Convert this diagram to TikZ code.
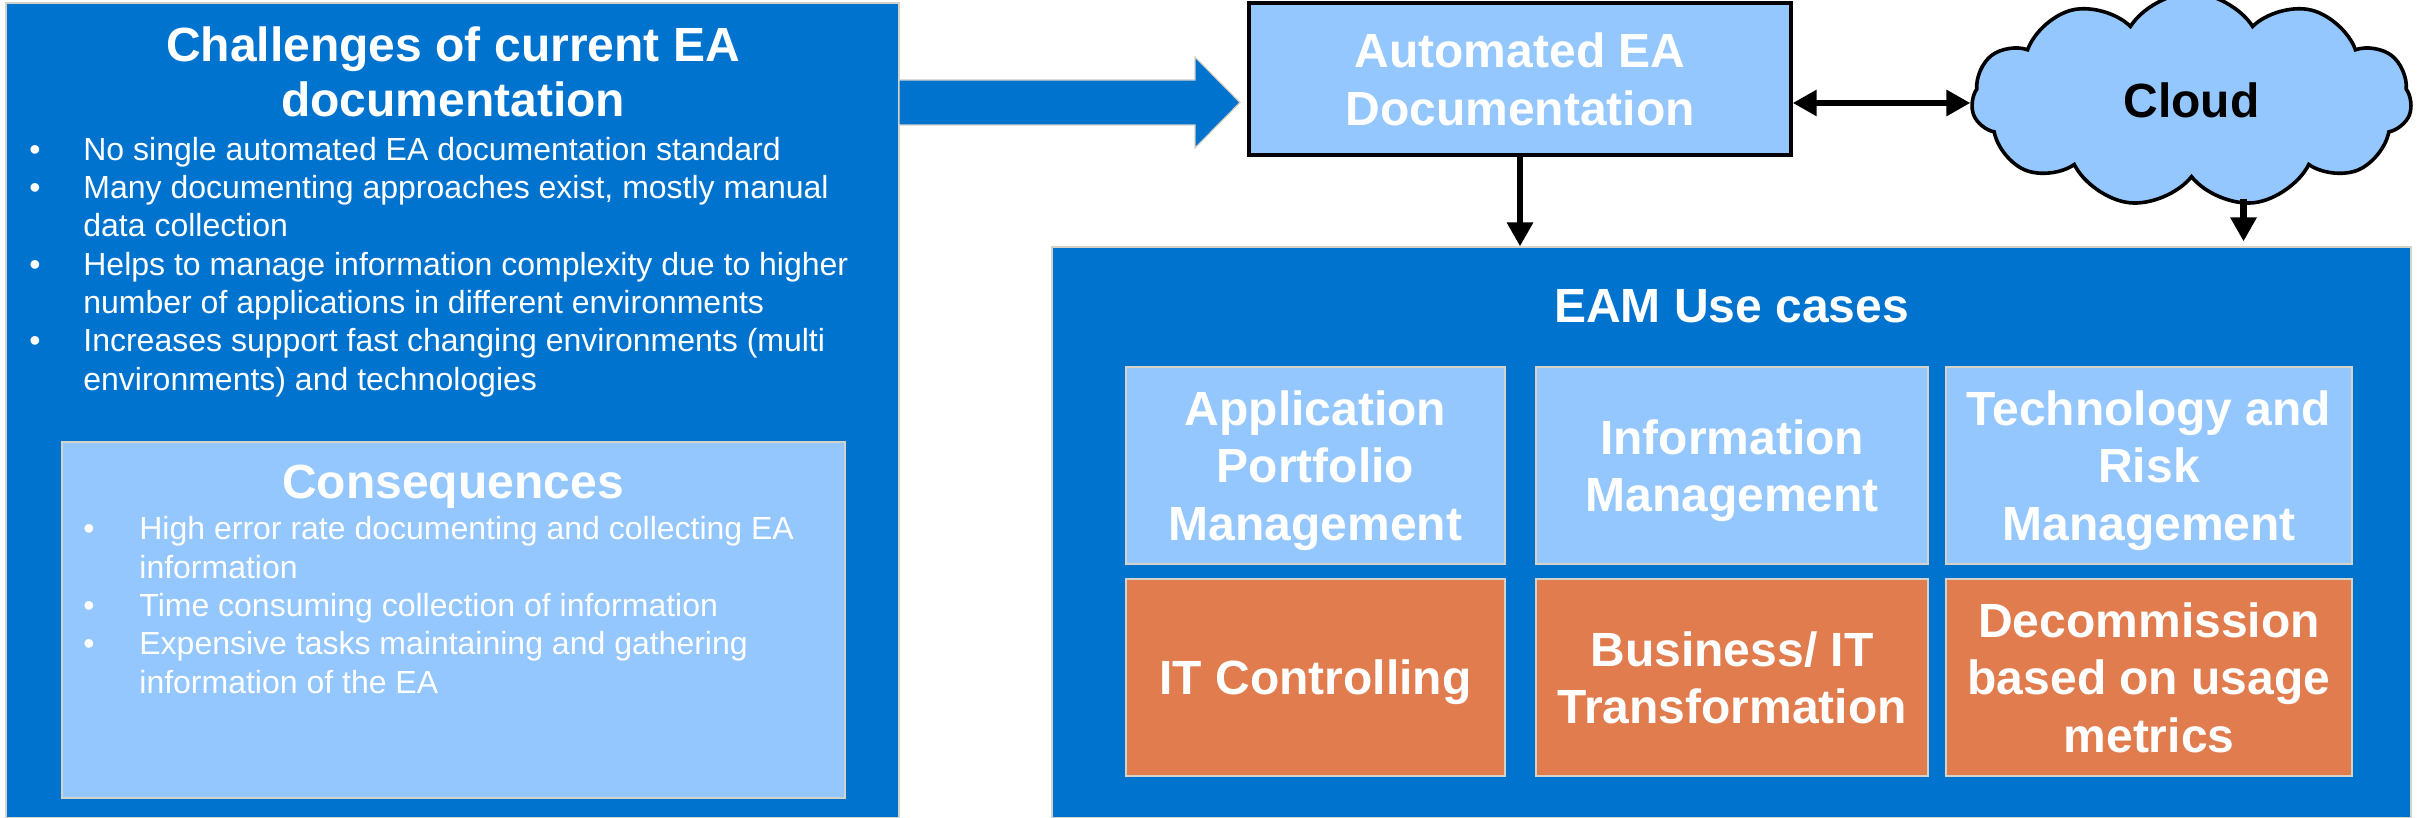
\documentclass[tikz,border=0pt]{standalone}
\usepackage{fontspec}
\setmainfont{Liberation Sans}
\usetikzlibrary{shapes.symbols,arrows.meta}
\definecolor{eablue}{RGB}{0,115,207}
\definecolor{tileblue}{RGB}{148,199,253}
\definecolor{tileorange}{RGB}{225,124,79}
\definecolor{edgegray}{RGB}{214,210,200}

\newcommand{\bullitem}[1][27pt]{\makebox[#1][l]{\textbullet}}
\newcommand{\bullcont}[1][27pt]{\hspace*{#1}}

\tikzset{
  panel/.style={draw=edgegray, line width=0.6pt, fill=eablue, inner sep=0pt},
  tile/.style={draw=edgegray, line width=0.6pt, inner sep=0pt, minimum height=98.5pt,
    text=white, align=center, text depth=0pt,
    font=\bfseries\fontsize{24pt}{28.75pt}\selectfont},
  heading/.style={text=white, align=center, inner sep=0pt,
    font=\bfseries\fontsize{24pt}{27.5pt}\selectfont},
  bullets/.style={text=white, align=left, inner sep=0pt,
    font=\fontsize{16pt}{19.15pt}\selectfont},
  cloudnode/.style={cloud, cloud puffs=11, cloud puff arc=115, draw=black, line width=1.8pt,
    fill=tileblue, inner sep=0pt, font=\bfseries\fontsize{24pt}{28pt}\selectfont},
  arr/.style={-{Triangle[length=12pt,width=12.5pt]}, line width=3.4pt},
  blockarrow/.style={fill=eablue, draw=edgegray, line width=0.6pt},
}

\begin{document}
\begin{tikzpicture}[x=0.5pt, y=-0.5pt]
\useasboundingbox (0,0) rectangle (2428,818);

% challenges (base = last line)
\node[panel, minimum width=446.5pt, minimum height=407.5pt] (chal) at (452.5,410.5) {};
\node[heading, anchor=base] (chaltitle) at (453,117) {Challenges of current EA\\documentation};
\node[bullets, anchor=base west] (challist) at (29,390) {%
  \bullitem No single automated EA documentation standard\\
  \bullitem Many documenting approaches exist, mostly manual\\
  \bullcont data collection\\
  \bullitem Helps to manage information complexity due to higher\\
  \bullcont number of applications in different environments\\
  \bullitem Increases support fast changing environments (multi\\
  \bullcont environments) and technologies};

% consequences
\node[panel, fill=tileblue, minimum width=391.5pt, minimum height=178pt] (cons) at (453.5,620) {};
\node[heading, anchor=base] (constitle) at (453,498) {Consequences};
\node[bullets, anchor=base west] (conslist) at (83,693) {%
  \bullitem[28pt]High error rate documenting and collecting EA\\
  \bullcont[28pt]information\\
  \bullitem[28pt]Time consuming collection of information\\
  \bullitem[28pt]Expensive tasks maintaining and gathering\\
  \bullcont[28pt]information of the EA};

% big arrow
\draw[blockarrow] (899,80) -- (1195,80) -- (1195,57) -- (1240,102.5)
  -- (1195,148) -- (1195,125) -- (899,125) -- cycle;

% automated documentation and cloud
\node[tile, draw=black, line width=1.7pt, fill=tileblue, minimum width=271pt,
  minimum height=76pt] (auto) at (1520,79) {Automated EA\\Documentation};
\node[cloudnode, minimum width=220pt, minimum height=98pt] (cloud) at (2191.5,100) {Cloud};

% use cases
\node[panel, minimum width=679.5pt, minimum height=285.5pt] (eam) at (1731.5,532.5) {};
\node[heading, anchor=base] (eamtitle) at (1731.5,322) {EAM Use cases};

\node[tile, fill=tileblue, minimum width=189.5pt] (apm) at (1315.5,465.5) {Application\\Portfolio\\Management};
\node[tile, fill=tileblue, minimum width=196pt] (infm) at (1732,465.5) {Information\\Management};
\node[tile, fill=tileblue, minimum width=203pt] (trm) at (2149,465.5) {Technology and\\Risk\\Management};
\node[tile, fill=tileorange, minimum width=189.5pt] (itc) at (1315.5,677.5) {IT Controlling};
\node[tile, fill=tileorange, minimum width=196pt] (bit) at (1732,677.5) {Business/ IT\\Transformation};
\node[tile, fill=tileorange, minimum width=203pt] (dcm) at (2149,677.5) {Decommission\\based on usage\\metrics};

% connectors
\coordinate (autoport) at ([yshift=-12pt]auto.east);
\path (cloud.center) ++(52,99) coordinate (cloudfoot);
\draw[arr, {Triangle[length=12pt,width=12.5pt]}-{Triangle[length=12pt,width=12.5pt]}]
  (autoport) -- (autoport -| cloud.west);
\draw[arr] (auto) -- (auto |- eam.north);
\draw[arr, shorten >=2.5pt] (cloudfoot) -- (cloudfoot |- eam.north);
\end{tikzpicture}
\end{document}
